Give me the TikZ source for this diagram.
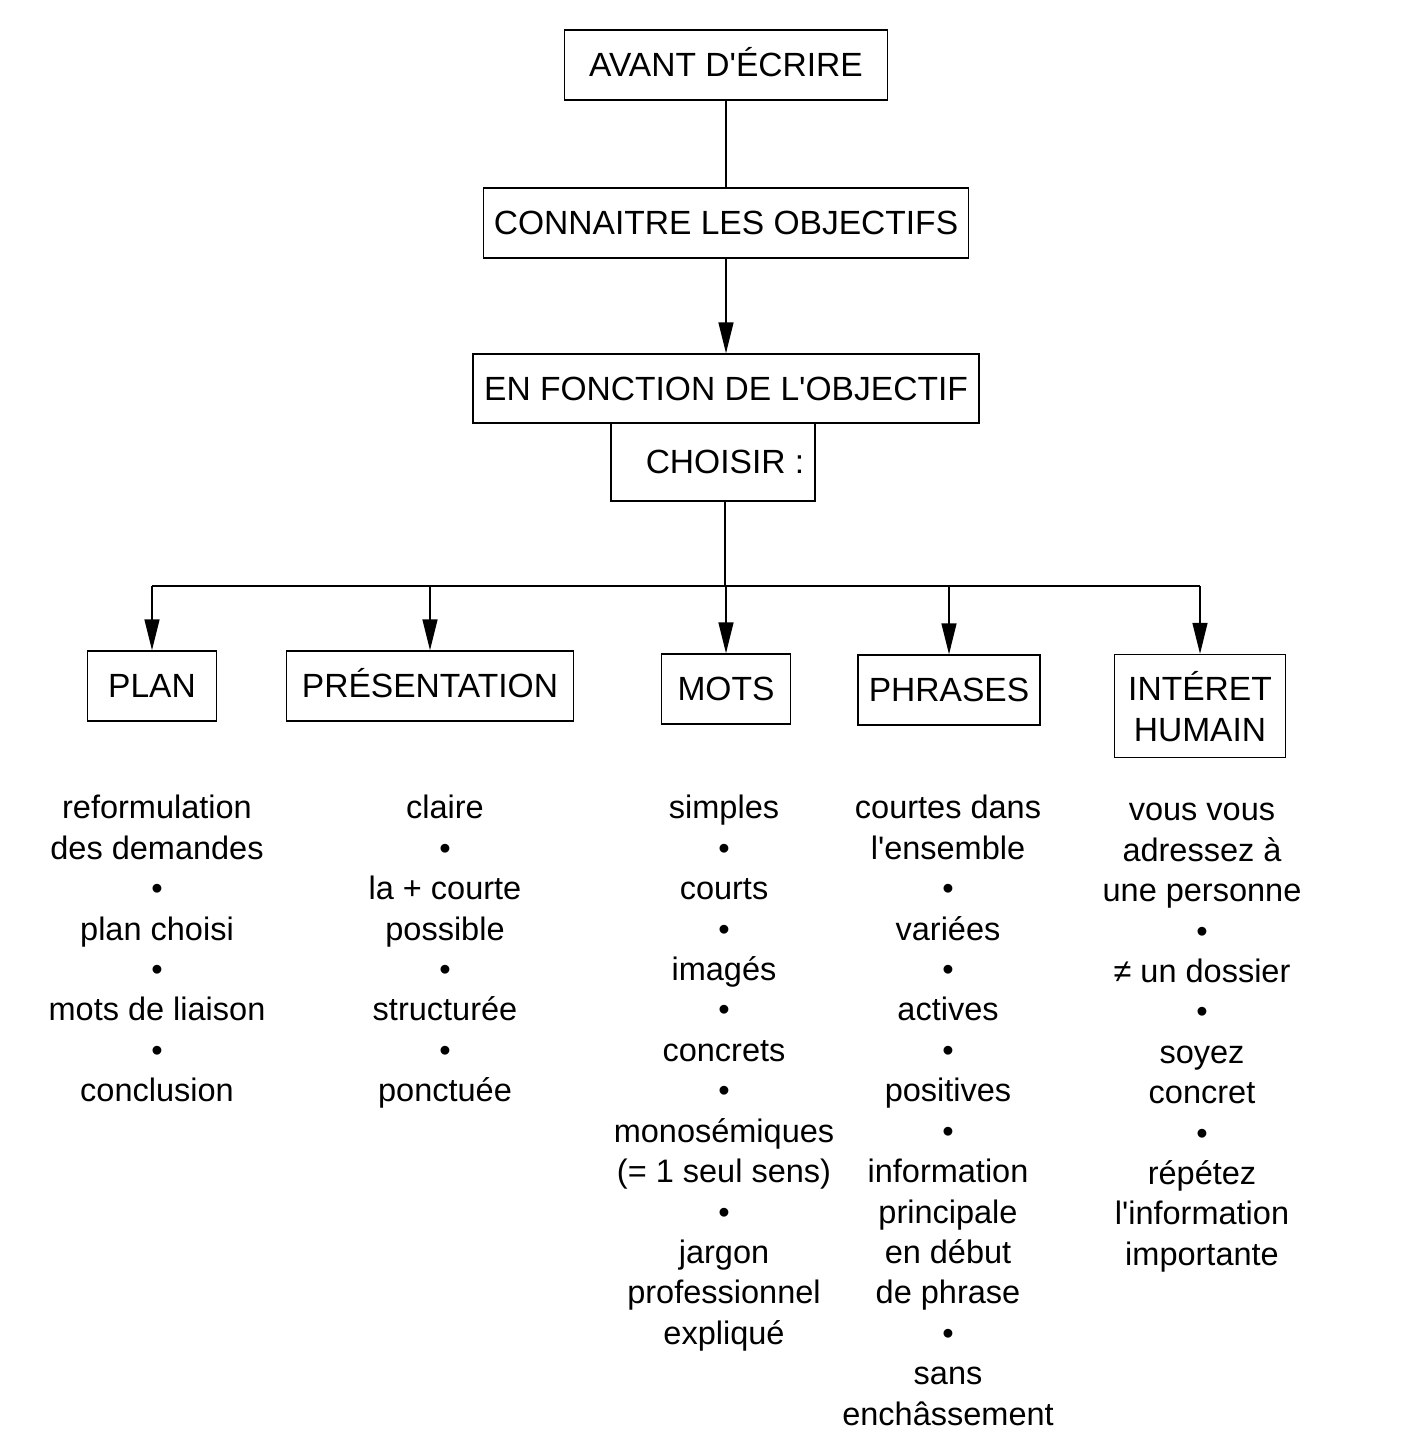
\documentclass[tikz,border=0pt]{standalone}
\usepackage{fontspec}
\setmainfont{Liberation Sans}[Ligatures=TeXOff]
\usepackage{tikz}
\usetikzlibrary{arrows.meta,positioning}

\tikzset{
  boite/.style={draw, line width=0.8pt, inner sep=0pt, align=center,
    text height=13.5pt, text depth=0pt,
    font=\fontsize{19.1}{23}\selectfont},
  liste/.style={anchor=north, inner sep=0pt, align=center,
    font=\fontsize{18.5}{23}\selectfont},
  fleche/.style={line width=0.8pt, -{Triangle[length=0.62cm,width=0.3cm]}},
  trait/.style={line width=0.8pt}
}

\begin{document}
\begin{tikzpicture}[x=0.02cm, y=-0.02cm]
  \useasboundingbox (0,0) rectangle (1406,1453);

  % Top chain
  \node[boite, minimum width=6.46cm, minimum height=1.4cm] (avant) at (726,65) {AVANT D'ÉCRIRE};
  \node[boite, minimum width=9.7cm, minimum height=1.4cm] (connaitre) at (726,223) {CONNAITRE LES OBJECTIFS};
  \node[boite, minimum width=10.12cm, minimum height=1.38cm] (fonction) at (726,388.5) {EN FONCTION DE L'OBJECTIF};
  \node[boite, minimum width=4.08cm, minimum height=1.56cm] (choisir) at (713,462) {\hspace{0.48cm}CHOISIR :};

  \draw[trait] (avant.south) -- (connaitre.north);
  \draw[fleche] (connaitre.south) -- (fonction.north);

  % Five choices
  \node[boite, minimum width=2.58cm, minimum height=1.4cm] (plan) at (152,686) {PLAN};
  \node[boite, minimum width=5.74cm, minimum height=1.4cm] (presentation) at (430,686) {PRÉSENTATION};
  \node[boite, minimum width=2.58cm, minimum height=1.4cm] (mots) at (726,689) {MOTS};
  \node[boite, minimum width=3.64cm, minimum height=1.4cm] (phrases) at (949,690) {PHRASES};
  \node[boite, minimum width=3.42cm, minimum height=2.06cm, text height=40pt] (interet) at (1200,706) {INTÉRET\\HUMAIN};

  % Distribution bus
  \coordinate (bus) at (725,586);
  \draw[trait] (bus |- choisir.south) -- (bus);
  \draw[trait] (plan.north |- bus) -- (interet.north |- bus);
  \foreach \b in {plan,presentation,mots,phrases,interet}
    \draw[fleche] (\b.north |- bus) -- (\b.north);

  % Lists under each box
  \node[liste] (planliste) at (157,795)
    {reformulation\\des demandes\\•\\plan choisi\\•\\mots de liaison\\•\\conclusion};
  \node[liste] (presliste) at (445,795)
    {claire\\•\\la + courte\\possible\\•\\structurée\\•\\ponctuée};
  \node[liste] (motsliste) at (724,795)
    {simples\\•\\courts\\•\\imagés\\•\\concrets\\•\\monosémiques\\(= 1 seul sens)\\•\\jargon\\professionnel\\expliqué};
  \node[liste] (phrliste) at (948,795)
    {courtes dans\\l'ensemble\\•\\variées\\•\\actives\\•\\positives\\•\\information\\principale\\en début\\de phrase\\•\\sans\\enchâssement};
  \node[liste] (intliste) at (1202,803)
    {vous vous\\adressez à\\une personne\\•\\≠ un dossier\\•\\soyez\\concret\\•\\répétez\\l'information\\importante};
\end{tikzpicture}
\end{document}
